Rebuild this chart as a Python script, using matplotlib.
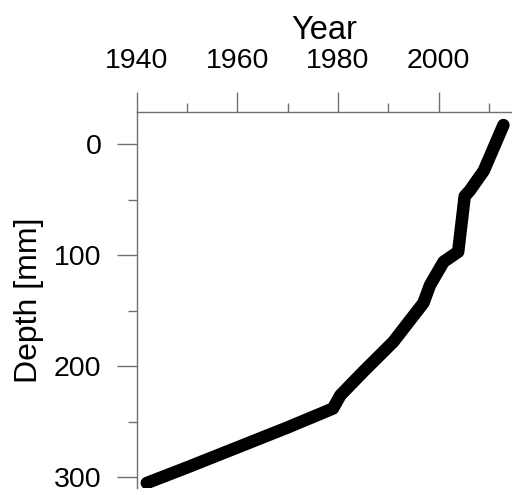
import matplotlib
matplotlib.use('Agg')
import matplotlib.pyplot as plt
from matplotlib.ticker import MultipleLocator

plt.rcParams['font.family'] = ['Liberation Sans', 'DejaVu Sans']

# age-depth profile
year = [1942, 1950, 1960, 1970, 1979, 1980.5, 1985, 1991, 1997, 1998.3,
        2001.0, 2003.9, 2005.2, 2006.2, 2009, 2012.9]
depth = [305, 291, 273, 255, 238, 226, 205, 178, 143, 127,
         106, 97, 47, 42, 24, -17]

fig = plt.figure(figsize=(5.12, 4.95), dpi=100)
ax = fig.add_axes([0.267, 0.0141, 0.733, 0.7602])

ax.plot(year, depth, color='black', lw=9, solid_capstyle='round',
        solid_joinstyle='round')

ax.set_xlim(1940, 2014.6)
ax.set_ylim(309.5, -29)

ax.xaxis.set_major_locator(MultipleLocator(20))
ax.xaxis.set_minor_locator(MultipleLocator(10))
ax.yaxis.set_major_locator(MultipleLocator(100))
ax.yaxis.set_minor_locator(MultipleLocator(50))

ax.xaxis.tick_top()
ax.xaxis.set_label_position('top')
ax.spines['right'].set_visible(False)
ax.spines['bottom'].set_visible(False)
for s in ['top', 'left']:
    ax.spines[s].set_color('#707070')
    ax.spines[s].set_linewidth(1.0)

ax.tick_params(which='major', length=14.5, width=1.0, color='#707070',
               labelsize=20.5, labelcolor='black')
ax.tick_params(which='minor', length=6.5, width=1.0, color='#707070')
ax.tick_params(axis='x', which='major', pad=13)
ax.tick_params(axis='y', which='major', pad=11)

ax.set_xlabel('Year', fontsize=23.5, labelpad=6)
ax.set_ylabel('Depth [mm]', fontsize=23, labelpad=7)

fig.savefig('out.png', dpi=100)
